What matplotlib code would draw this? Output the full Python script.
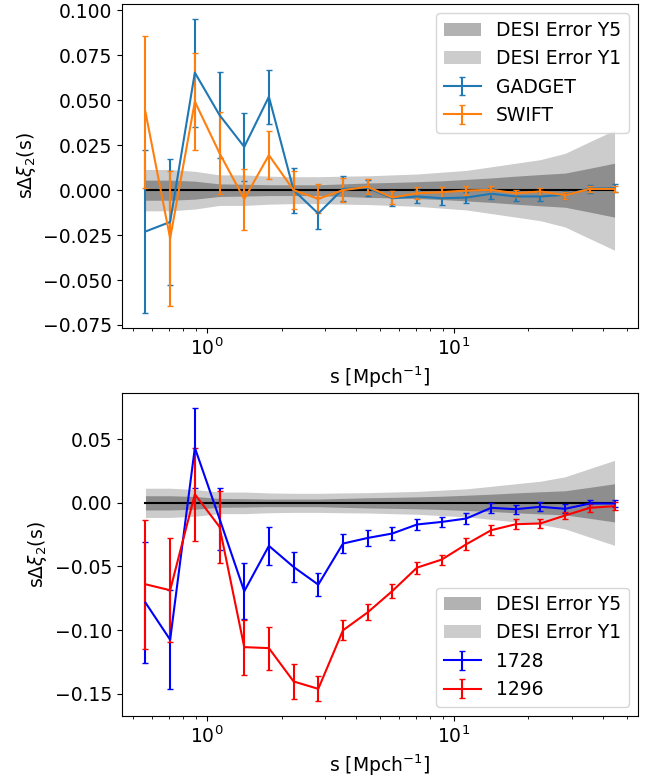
import numpy as np
import matplotlib
matplotlib.use("Agg")
import matplotlib.pyplot as plt

plt.rcParams['font.size'] = 13.5

# separation bins (log-spaced centres)
s = [0.5623, 0.7079, 0.8913, 1.122, 1.413, 1.778, 2.239, 2.818, 3.548, 4.467,
     5.623, 7.079, 8.913, 11.22, 14.13, 17.78, 22.39, 28.18, 35.48, 44.67]

# DESI error bands (half widths)
desi_y5 = [0.0056, 0.0056, 0.0050, 0.0035, 0.0033, 0.0030, 0.0030, 0.0030, 0.0035, 0.0040,
           0.0043, 0.0047, 0.0052, 0.0060, 0.0068, 0.0078, 0.0087, 0.0095, 0.0122, 0.0150]
desi_y1 = [0.0115, 0.0115, 0.0105, 0.0085, 0.0085, 0.0078, 0.0075, 0.0075, 0.0078, 0.0080,
           0.0085, 0.0090, 0.0100, 0.0110, 0.0130, 0.0150, 0.0170, 0.0205, 0.0270, 0.0334]

# top panel
gadget = [-0.0230, -0.0177, 0.0654, 0.0418, 0.0241, 0.0520, 0.0000, -0.0130, 0.0007, 0.0013,
          -0.0045, -0.0035, -0.0045, -0.0041, -0.0020, -0.0035, -0.0035, -0.0026, 0.0009, 0.0011]
gadget_err = [0.0455, 0.0350, 0.0300, 0.0238, 0.0190, 0.0150, 0.0125, 0.0085, 0.0070, 0.0045,
              0.0042, 0.0037, 0.0036, 0.0032, 0.0030, 0.0028, 0.0027, 0.0022, 0.0022, 0.0023]
swift = [0.0435, -0.0268, 0.0493, 0.0206, -0.0050, 0.0195, 0.0000, -0.0048, 0.0000, 0.0019,
         -0.0041, -0.0017, -0.0011, -0.0002, 0.0002, -0.0017, -0.0007, -0.0028, 0.0007, 0.0007]
swift_err = [0.0425, 0.0375, 0.0270, 0.0227, 0.0170, 0.0135, 0.0105, 0.0080, 0.0067, 0.0042,
             0.0037, 0.0034, 0.0030, 0.0023, 0.0022, 0.0020, 0.0020, 0.0020, 0.0018, 0.0018]

# bottom panel
r1728 = [-0.0784, -0.1076, 0.0433, -0.0125, -0.0695, -0.0338, -0.0504, -0.0643, -0.0320, -0.0276,
         -0.0241, -0.0170, -0.0150, -0.0123, -0.0039, -0.0050, -0.0031, -0.0047, -0.0005, -0.0005]
r1728_err = [0.0475, 0.0390, 0.0315, 0.0245, 0.0220, 0.0147, 0.0120, 0.0090, 0.0073, 0.0060,
             0.0052, 0.0040, 0.0040, 0.0040, 0.0040, 0.0035, 0.0035, 0.0035, 0.0030, 0.0030]
r1296 = [-0.0640, -0.0687, 0.0068, -0.0189, -0.1134, -0.1142, -0.1404, -0.1462, -0.1002, -0.0861,
         -0.0693, -0.0509, -0.0446, -0.0325, -0.0215, -0.0168, -0.0162, -0.0099, -0.0039, -0.0026]
r1296_err = [0.0505, 0.0410, 0.0367, 0.0280, 0.0217, 0.0170, 0.0138, 0.0098, 0.0079, 0.0063,
             0.0055, 0.0047, 0.0040, 0.0048, 0.0040, 0.0040, 0.0035, 0.0030, 0.0030, 0.0030]

W, H = 659, 778
fig = plt.figure(figsize=(W / 100, H / 100), dpi=100)
ax1 = fig.add_axes([122 / W, (H - 328) / H, 516 / W, 324 / H])
ax2 = fig.add_axes([122 / W, (H - 716) / H, 516 / W, 323 / H])

sa = np.array(s)
y5 = np.array(desi_y5)
y1 = np.array(desi_y1)
zeros = np.zeros_like(sa)


def panel(ax, series, loc):
    ax.fill_between(sa, -y5, y5, color='k', alpha=0.3, lw=0, label='DESI Error Y5')
    ax.fill_between(sa, -y1, y1, color='k', alpha=0.2, lw=0, label='DESI Error Y1')
    ax.plot(sa, zeros, color='k', lw=1.5)
    for vals, errs, col, lab in series:
        ax.errorbar(sa, vals, yerr=errs, color=col, capsize=2, label=lab)
    ax.set_xscale('log')
    ax.set_xlabel(r's [Mpch$^{-1}$]')
    ax.set_ylabel(r's$\Delta\xi_2$(s)')
    ax.legend(loc=loc)


panel(ax1, [(gadget, gadget_err, 'tab:blue', 'GADGET'),
            (swift, swift_err, 'tab:orange', 'SWIFT')], 'upper right')
panel(ax2, [(r1728, r1728_err, 'blue', '1728'),
            (r1296, r1296_err, 'red', '1296')], 'lower right')

fig.savefig('out.png', dpi=100)
